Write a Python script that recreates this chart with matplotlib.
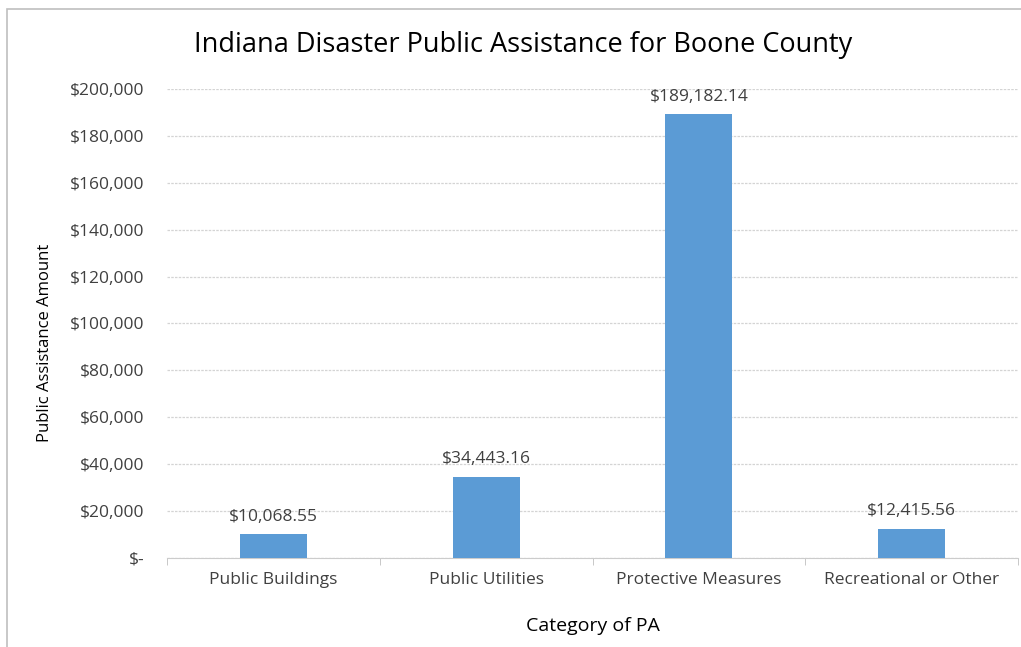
import matplotlib.pyplot as plt
import matplotlib.ticker as mticker
import numpy as np

plt.rcParams['font.family'] = ['Open Sans', 'DejaVu Sans']

categories = ['Public Buildings', 'Public Utilities', 'Protective Measures', 'Recreational or Other']
amounts = [10068.55, 34443.16, 189182.14, 12415.56]
y_ticks = [0, 20000, 40000, 60000, 80000, 100000, 120000, 140000, 160000, 180000, 200000]

bar_color = '#5B9BD5'

fig = plt.figure(figsize=(10.21, 6.47), dpi=100)
ax = fig.add_axes([0.1636, 0.1376, 0.8335, 0.7249])

x = np.arange(len(categories))
bars = ax.bar(x, amounts, width=0.315, color=bar_color, zorder=3)

# value labels above bars
for bar, val in zip(bars, amounts):
    ax.annotate(f'${val:,.2f}', xy=(bar.get_x() + bar.get_width() / 2, val),
                xytext=(0, 7), textcoords='offset points', ha='center', va='bottom',
                fontsize=12.5, color='#404040')

def money(v, pos):
    return '$-' if v == 0 else f'${v:,.0f}'

ax.set_xlim(-0.5, len(categories) - 0.5)
ax.set_ylim(0, 200000)
ax.set_yticks(y_ticks)
ax.yaxis.set_major_formatter(mticker.FuncFormatter(money))
ax.set_xticks(x)
ax.set_xticklabels(categories)
ax.set_xticks(np.arange(-0.5, len(categories)), minor=True)
ax.tick_params(axis='x', which='major', length=0, pad=10, labelsize=12.5, labelcolor='#404040')
ax.tick_params(axis='x', which='minor', length=5, color='#bfbfbf', direction='out')
ax.tick_params(axis='y', length=0, pad=16, labelsize=12.5, labelcolor='#404040')

ax.grid(axis='y', color='#d4d4d4', linewidth=0.9, linestyle=(0, (2, 1)), zorder=0)
for side in ['top', 'right', 'left']:
    ax.spines[side].set_visible(False)
ax.spines['bottom'].set_color('#cccccc')

ax.set_xlabel('Category of PA', fontsize=14, color='#000000', labelpad=21)
fig.text(45 / 1021, 1 - 343 / 647, 'Public Assistance Amount', rotation=90,
         ha='center', va='center', fontsize=12, color='#000000')
fig.text(0.512, 0.93, 'Indiana Disaster Public Assistance for Boone County',
         ha='center', va='center', fontsize=19.5, color='#000000')

# chart border
fig.patches.append(plt.Rectangle((7 / 1021, -0.01), 1.1, 1 - 9 / 647 + 0.01,
                                 transform=fig.transFigure, fill=False,
                                 edgecolor='#bfbfbf', linewidth=1.2))

fig.savefig('out.png', dpi=100)
